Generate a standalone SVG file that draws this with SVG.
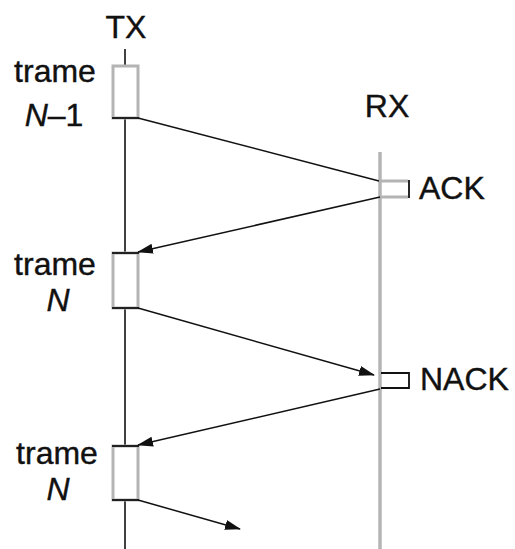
<svg xmlns="http://www.w3.org/2000/svg" width="515" height="549" viewBox="0 0 515 549">
<style>
text{font-family:"Liberation Sans",Arial,sans-serif;font-size:32px;fill:#111;stroke:#111;stroke-width:0.4}
.i{font-style:italic}
.ax{stroke:#111;stroke-width:1.6;fill:none}
.rx{stroke:#b4b4b4;stroke-width:3.5;fill:none}
.fb{fill:#fff;stroke:#b4b4b4;stroke-width:3}
.bk{stroke:#111;stroke-width:1.8;fill:none}
.gr{stroke:#b4b4b4;stroke-width:3;fill:none}
.msg{stroke:#111;stroke-width:1.5;fill:none}
</style>
<defs>
<marker id="ah" markerWidth="16" markerHeight="10" refX="15" refY="5" orient="auto" markerUnits="userSpaceOnUse">
<path d="M0,0 L16,5 L0,10 Z" fill="#111"/>
</marker>
</defs>
<g id="tx-axis">
<text x="126" y="38" text-anchor="middle">TX</text>
<line class="ax" x1="125" y1="49" x2="125" y2="549"/>
</g>
<g id="rx-axis">
<text x="387" y="117" text-anchor="middle">RX</text>
<line class="rx" x1="380" y1="152" x2="380" y2="549"/>
</g>
<g id="frame1">
<rect class="fb" x="113" y="66" width="25" height="52"/>
<line class="bk" x1="112" y1="118" x2="139" y2="118"/>
<text x="55" y="82" text-anchor="middle">trame</text>
<text x="54" y="126" text-anchor="middle"><tspan class="i">N</tspan>–1</text>
</g>
<g id="frame2">
<rect class="fb" x="113" y="253" width="25" height="55"/>
<line class="bk" x1="112" y1="253" x2="139" y2="253"/>
<line class="bk" x1="112" y1="308" x2="139" y2="308"/>
<text x="55" y="275" text-anchor="middle">trame</text>
<text x="58" y="311" text-anchor="middle" class="i">N</text>
</g>
<g id="frame3">
<rect class="fb" x="113" y="446" width="25" height="54"/>
<line class="bk" x1="112" y1="446" x2="139" y2="446"/>
<line class="bk" x1="112" y1="500" x2="139" y2="500"/>
<text x="57" y="464" text-anchor="middle">trame</text>
<text x="58" y="500" text-anchor="middle" class="i">N</text>
</g>
<g id="ack">
<line class="gr" x1="380" y1="181" x2="408" y2="181"/>
<line class="gr" x1="380" y1="197" x2="408" y2="197"/>
<line class="bk" x1="409" y1="180" x2="409" y2="198"/>
<text x="419" y="199">ACK</text>
</g>
<g id="nack">
<path class="bk" d="M381,373 H409 V388 H381"/>
<text x="420" y="390">NACK</text>
</g>
<g id="connectors">
<line class="msg" x1="138" y1="118" x2="379" y2="181"/>
<line class="msg" x1="380" y1="197" x2="138" y2="252" marker-end="url(#ah)"/>
<line class="msg" x1="138" y1="308" x2="374" y2="375" marker-end="url(#ah)"/>
<line class="msg" x1="380" y1="389" x2="138" y2="445" marker-end="url(#ah)"/>
<line class="msg" x1="138" y1="500" x2="240" y2="529" marker-end="url(#ah)"/>
</g>
</svg>
